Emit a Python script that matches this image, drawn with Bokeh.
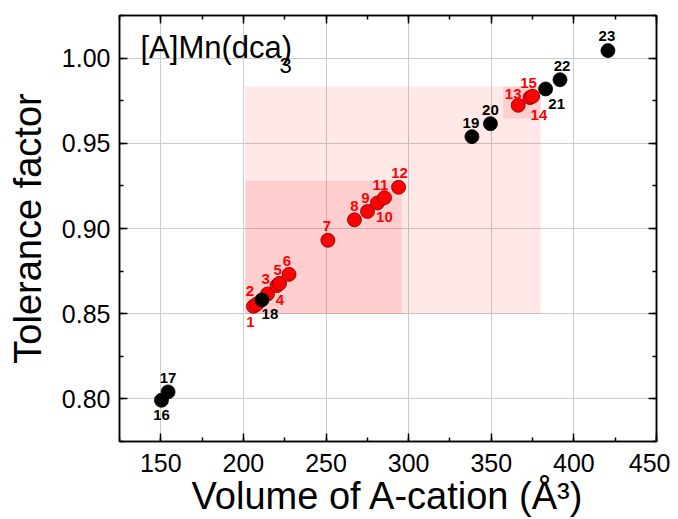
from bokeh.plotting import figure
from bokeh.models import (ColumnDataSource, LinearAxis, SingleIntervalTicker,
                          PrintfTickFormatter, CustomJSTickFormatter, Label, Range1d)
from bokeh.embed import file_html
from bokeh.resources import INLINE
from bokeh.core.properties import value

# ---------------- data ----------------
red_ids = ["1", "2", "3", "4", "5", "6", "7", "8", "9", "10", "11", "12", "13", "14", "15"]
red_volume = [206.1, 208.1, 214.6, 220.3, 221.9, 227.6, 251.1, 267.2, 275.1, 281.1,
              285.4, 293.9, 366.3, 373.4, 375.0]
red_tolerance = [0.8543, 0.8556, 0.8616, 0.8665, 0.8678, 0.8731, 0.8931, 0.9051, 0.9100,
                 0.9150, 0.9181, 0.9242, 0.9723, 0.9768, 0.9776]

black_ids = ["16", "17", "18", "19", "20", "21", "22", "23"]
black_volume = [150.4, 154.4, 211.2, 338.3, 349.5, 382.9, 391.6, 420.6]
black_tolerance = [0.7992, 0.8041, 0.8581, 0.9539, 0.9615, 0.9819, 0.9873, 1.0044]

# shaded regions (data coordinates)
region_x0 = [201.0, 201.0, 357.2]
region_x1 = [380.0, 295.8, 379.4]
region_y0 = [0.850, 0.850, 0.9646]
region_y1 = [0.9834, 0.928, 0.9834]

# label offsets in screen pixels (styling)
red_dx = [-3, -7, -2, 3, -2, -2, -1, 0, -2, 7, -4, 1, -5, 9, -4]
red_dy = [16, -13, -15, 14, -13, -13, -14, -14, -13, 14, -13, -14, -11, 17, -13]
black_dx = [0, 0, 8, -1, 0, 11, 2, -1]
black_dy = [15, -14, 14, -14, -14, 15, -14, -15]

FONT = "Liberation Sans"

W, H = 670, 519
p = figure(width=W, height=H, output_backend="svg", toolbar_location=None,
           x_range=Range1d(125, 450), y_range=Range1d(0.775, 1.025),
           min_border_left=119, min_border_right=14, min_border_top=15, min_border_bottom=75,
           x_axis_label="Volume of A-cation (Å³)", y_axis_label="Tolerance factor")

p.outline_line_color = "black"
p.outline_line_width = 1.5
p.background_fill_color = "white"
p.border_fill_color = "white"

# shaded regions
p.quad(left=region_x0[:1], right=region_x1[:1], bottom=region_y0[:1], top=region_y1[:1],
       fill_color="#ff0000", fill_alpha=0.09, line_color=None)
p.quad(left=region_x0[1:], right=region_x1[1:], bottom=region_y0[1:], top=region_y1[1:],
       fill_color="#ff0000", fill_alpha=0.11, line_color=None)

red_src = ColumnDataSource(dict(x=red_volume, y=red_tolerance, t=red_ids, dx=red_dx, dy=red_dy))
black_src = ColumnDataSource(dict(x=black_volume, y=black_tolerance, t=black_ids, dx=black_dx, dy=black_dy))

p.scatter("x", "y", source=red_src, size=14, fill_color="#ff0000", line_color="#7a0000", line_width=0.8)
p.scatter("x", "y", source=black_src, size=14, fill_color="#000000", line_color="#000000", line_width=0.8)

p.text("x", "y", text="t", source=red_src, x_offset="dx", y_offset="dy",
       text_font=value(FONT), text_font_style="bold", text_font_size="15px",
       text_color="#ff0000", text_align="center", text_baseline="middle")
p.text("x", "y", text="t", source=black_src, x_offset="dx", y_offset="dy",
       text_font=value(FONT), text_font_style="bold", text_font_size="15px",
       text_color="#000000", text_align="center", text_baseline="middle")

# grid
p.xgrid.grid_line_color = "#cccccc"
p.ygrid.grid_line_color = "#cccccc"
p.xgrid.grid_line_width = 1
p.ygrid.grid_line_width = 1

xt = SingleIntervalTicker(interval=50, num_minor_ticks=2)
yt = SingleIntervalTicker(interval=0.05, num_minor_ticks=2)
p.xaxis.ticker = xt
p.yaxis.ticker = yt
p.xgrid.ticker = xt
p.ygrid.ticker = yt
p.yaxis.formatter = PrintfTickFormatter(format="%.2f")


def style_axis(ax):
    ax.axis_line_color = "black"
    ax.axis_line_width = 1.5
    ax.major_tick_in = 8
    ax.major_tick_out = 0
    ax.minor_tick_in = 4
    ax.minor_tick_out = 0
    ax.major_tick_line_width = 1.5
    ax.minor_tick_line_width = 1.5
    ax.major_tick_line_color = "black"
    ax.minor_tick_line_color = "black"
    ax.major_label_text_font = FONT
    ax.major_label_text_font_size = "25px"
    ax.major_label_text_color = "black"
    ax.axis_label_text_font = FONT
    ax.axis_label_text_font_size = "38px"
    ax.axis_label_text_font_style = "normal"
    ax.axis_label_text_color = "black"


for ax in p.xaxis + p.yaxis:
    style_axis(ax)
p.xaxis.major_label_standoff = 12
p.yaxis.major_label_standoff = 9
p.xaxis.axis_label_standoff = 0
p.yaxis.axis_label_standoff = 10

top = LinearAxis(ticker=xt, formatter=CustomJSTickFormatter(code="return ''"))
right = LinearAxis(ticker=yt, formatter=CustomJSTickFormatter(code="return ''"))
style_axis(top)
style_axis(right)
top.major_label_standoff = 0
right.major_label_standoff = 0
p.add_layout(top, "above")
p.add_layout(right, "right")

# title text
p.add_layout(Label(x=21, y=394, x_units="screen", y_units="screen", text="[A]Mn(dca)",
                   text_font=FONT, text_font_size="31px", text_color="black",
                   text_baseline="alphabetic"))
p.add_layout(Label(x=160, y=376, x_units="screen", y_units="screen", text="3",
                   text_font=FONT, text_font_size="22px", text_color="black",
                   text_baseline="alphabetic"))

open("out.html", "w").write(file_html(p, INLINE))
